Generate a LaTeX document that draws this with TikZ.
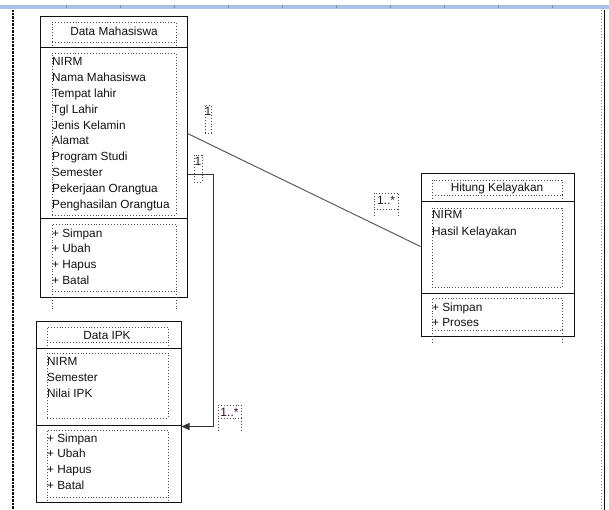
\documentclass[tikz,border=0pt]{standalone}
\usepackage{fontspec}
\setmainfont{Liberation Sans}
\usetikzlibrary{arrows.meta,positioning,calc,fit}
\definecolor{ink}{HTML}{111111}
\definecolor{wire}{HTML}{5C5C5C}
\definecolor{ruler}{HTML}{A6C2E6}
\definecolor{tick}{HTML}{8C8C8C}

\begin{document}
\begin{tikzpicture}[
  x=1pt, y=-1pt, font=\fontsize{11.8}{15.8}\selectfont,
  cls/.style={draw=ink, line width=1pt, inner sep=0pt},
  sel/.style={draw=ink!75, dotted, line width=.9pt, inner sep=0pt},
  sep/.style={draw=ink, line width=1pt},
  attr/.style={anchor=north west, align=left, inner sep=0pt, text=ink},
  ttl/.style={inner sep=0pt, text=ink},
  mtxt/.style={font=\fontsize{12}{12}\selectfont, inner sep=0pt, text=ink!70!violet},
  assoc/.style={draw=wire, line width=1pt},
  ar/.style={-{Triangle[length=8pt,width=7pt]}, draw=ink!85, line width=1pt},
]
\useasboundingbox (0,0) rectangle (609,510);

%% ================= page frame =================
\fill[ruler] (0,5) rectangle (609,9);
\foreach \x in {66,120,...,603}
  \draw[tick, line width=.8pt] (\x,5) -- (\x,8);
\draw[ink, line width=1.5pt, dash pattern=on 1pt off .4pt] (13,10) -- (13,510);
\draw[tick, dotted, line width=1pt] (601,10) -- (601,510);
\draw[ink, line width=1pt] (604,10) -- (604,510);

%% ================= Data Mahasiswa =================
\node[cls, fit={(40,17) (187,297)}] (mhs) {};
\draw[sep] (40,48) -- (187,48);
\draw[sep] (40,219) -- (187,219);
\node[sel, fit={(52,22) (176,42)}] (mhs-t) {};
\node[sel, fit={(52,53) (176,215)}] (mhs-a) {};
\node[sel, fit={(52,224) (176,291)}] (mhs-o) {};
\foreach \x/\ya/\yb in {52/42/47,176/42/47,52/291/310,176/291/310}
  \draw[sel] (\x,\ya) -- (\x,\yb);
\node[ttl] (mhs-n) at (114,31) {Data Mahasiswa};
\node[attr] (mhs-at) at (52,57.5)
  {NIRM\\Nama Mahasiswa\\Tempat lahir\\Tgl Lahir\\Jenis Kelamin\\Alamat\\
   Program Studi\\Semester\\Pekerjaan Orangtua\\Penghasilan Orangtua};
\node[attr] (mhs-op) at (52,228.3) {+ Simpan\\+ Ubah\\+ Hapus\\+ Batal};

%% ================= Data IPK =================
\node[cls, fit={(36,321) (181,502)}] (ipk) {};
\draw[sep] (36,348) -- (181,348);
\draw[sep] (36,425) -- (181,425);
\node[sel, fit={(47,327) (168,342)}] (ipk-t) {};
\node[sel, fit={(47,353) (168,418)}] (ipk-a) {};
\node[sel, fit={(47,430) (168,497)}] (ipk-o) {};
\foreach \x/\ya/\yb in {47/342/347,168/342/347,47/497/502,168/497/502}
  \draw[sel] (\x,\ya) -- (\x,\yb);
\node[ttl] (ipk-n) at (107,335) {Data IPK};
\node[attr] (ipk-at) at (47,357.5) {NIRM\\Semester\\Nilai IPK};
\node[attr] (ipk-op) at (47,433.3) {+ Simpan\\+ Ubah\\+ Hapus\\+ Batal};

%% ================= Hitung Kelayakan =================
\node[cls, fit={(421,174) (574,336)}] (hk) {};
\draw[sep] (421,202) -- (574,202);
\draw[sep] (421,293) -- (574,293);
\node[sel, fit={(432,180) (562,195)}] (hk-t) {};
\node[sel, fit={(432,208) (562,287)}] (hk-a) {};
\node[sel, fit={(432,298) (562,330)}] (hk-o) {};
\foreach \x/\ya/\yb in {432/195/201,562/195/201,432/330/344,562/330/344}
  \draw[sel] (\x,\ya) -- (\x,\yb);
\node[ttl] (hk-n) at (497,188) {Hitung Kelayakan};
\node[attr, font=\fontsize{11.8}{17}\selectfont] (hk-at) at (432,210.5)
  {NIRM\\Hasil Kelayakan};
\node[attr] (hk-op) at (432,302.3) {+ Simpan\\+ Proses};

%% ================= associations =================
\draw[assoc] ([yshift=-117pt]mhs.north east) -- ([yshift=-73pt]hk.north west);
\draw[ar] ([yshift=-158pt]mhs.north east) -- ++(26,0) |- ([yshift=-106pt]ipk.north east);

%% multiplicities
\node[sel, fit={(205,105) (211,133)}] (m1) {};
\node[mtxt, anchor=north] (m1-t) at ([yshift=-2pt]m1.north) {1};
\node[sel, fit={(194,155) (202,182)}] (m2) {};
\node[mtxt, anchor=north] (m2-t) at ([yshift=-2pt]m2.north) {1};
\node[sel, fit={(374,193) (398,209)}] (m3) {};
\node[mtxt, anchor=north] (m3-t) at ([yshift=-3pt]m3.north) {1..*};
\node[sel, fit={(218,405) (241,418)}] (m4) {};
\node[mtxt, anchor=north] (m4-t) at ([yshift=-3pt]m4.north) {1..*};
\foreach \x/\ya/\yb in {374/209/217,398/209/217,218/418/432,241/418/432}
  \draw[sel] (\x,\ya) -- (\x,\yb);

\end{tikzpicture}
\end{document}
